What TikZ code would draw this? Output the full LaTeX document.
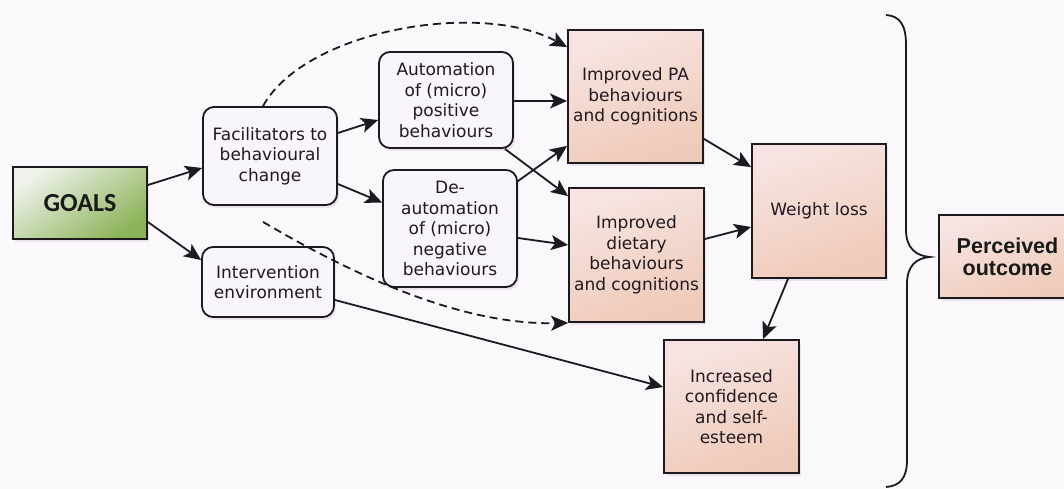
\documentclass[tikz,border=0pt]{standalone}
\usepackage{fontspec}
\setmainfont{DejaVu Sans}
\newfontfamily\goalsfont{Carlito}
\newfontfamily\outfont{Liberation Sans}
\usetikzlibrary{arrows.meta,shadows}

\definecolor{paper}{HTML}{FAF8FB}
\definecolor{linec}{HTML}{1C1A1E}
\definecolor{txt}{HTML}{221820}
\definecolor{roundfill}{HTML}{F8F6FA}
\definecolor{pinkT}{HTML}{F7E4E2}
\definecolor{pinkB}{HTML}{EFCAB8}
\definecolor{goalsL}{HTML}{EEF2EA}
\definecolor{goalsD}{HTML}{8DB35A}
\definecolor{shadowc}{HTML}{B89AB4}

\tikzset{
  bodytext/.style={font=\fontsize{17}{20.5}\selectfont, text=txt, align=center, inner sep=0pt},
  softshadow/.style={drop shadow={shadow xshift=2pt, shadow yshift=-3pt, opacity=0.22, fill=shadowc}},
  rbox/.style={bodytext, draw=linec, line width=1.8pt, rounded corners=11pt, fill=roundfill, softshadow},
  pbox/.style={bodytext, draw=linec, line width=1.8pt, top color=pinkT, bottom color=pinkB, shading angle=20, softshadow},
  arr/.style={draw=linec, line width=1.8pt, -{Stealth[length=17pt,width=15pt,inset=4pt]}},
  darr/.style={arr, dash pattern=on 8pt off 5pt},
}

\begin{document}
\begin{tikzpicture}[x=1pt,y=-1pt]
  \fill[paper] (0,0) rectangle (1064,489);
  \useasboundingbox (0,0) rectangle (1064,489);

  % left column
  \node[draw=linec, line width=1.8pt, top color=goalsL, bottom color=goalsD, shading angle=35,
        softshadow, minimum width=134pt, minimum height=72pt, inner sep=0pt,
        font=\goalsfont\bfseries\fontsize{26}{28}\selectfont, text=black!90]
        (goals) at (80,203) {GOALS};
  \node[rbox, minimum width=134pt, minimum height=98pt] (fac) at (270,156)
        {Facilitators to\\behavioural\\change};
  \node[rbox, minimum width=132pt, minimum height=70pt] (env) at (268,282)
        {Intervention\\environment};

  % automation column
  \node[rbox, minimum width=134pt, minimum height=96pt] (auto) at (446,100)
        {Automation\\of (micro)\\positive\\behaviours};
  \node[rbox, minimum width=134pt, minimum height=117pt] (deauto) at (450,228.5)
        {De-\\automation\\of (micro)\\negative\\behaviours};

  % outcome boxes
  \node[pbox, minimum width=135pt, minimum height=133pt] (pa) at (635.5,96.5)
        {Improved PA\\behaviours\\and cognitions};
  \node[pbox, minimum width=135pt, minimum height=134pt] (diet) at (636.5,255)
        {Improved\\dietary\\behaviours\\and cognitions};
  \node[pbox, minimum width=134pt, minimum height=134pt] (wl) at (819,211)
        {Weight loss};
  \node[pbox, minimum width=135pt, minimum height=133pt] (conf) at (731.5,406.5)
        {Increased\\confidence\\and self-\\esteem};

  \node[draw=linec, line width=1.8pt, top color=pinkT, bottom color=pinkB, shading angle=20,
        softshadow, minimum width=137pt, minimum height=83pt, inner sep=0pt, align=center,
        font=\outfont\bfseries\fontsize{21.5}{22}\selectfont, text=black!90]
        (perc) at (1007.5,256.5) {Perceived\\outcome};

  % solid connectors
  \draw[arr] ([yshift=18pt]goals.east) -- ([yshift=-12pt]fac.west);
  \draw[arr] ([yshift=-19pt]goals.east) -- ([yshift=22pt]env.west);
  \draw[arr] ([yshift=23pt]fac.east) -- ([yshift=-20pt]auto.west);
  \draw[arr] ([yshift=-28pt]fac.east) -- ([yshift=26pt]deauto.west);
  \draw[arr] ([yshift=-1pt]auto.east) -- ([yshift=-1pt]auto.east -| pa.west);
  \draw[arr] ([xshift=-9pt]auto.south east) -- ([yshift=-9pt]diet.north west);
  \draw[arr] ([yshift=-12pt]deauto.north east) -- ([yshift=18pt]pa.south west);
  \draw[arr] ([yshift=-9.5pt]deauto.east) -- ([yshift=10pt]diet.west);
  \draw[arr] ([yshift=-18pt]env.east) -- ([yshift=19.5pt]conf.west);
  \draw[arr] ([yshift=25pt]pa.south east) -- ([yshift=-24pt]wl.north west);
  \draw[arr] ([yshift=16pt]diet.east) -- ([yshift=-16pt]wl.west);
  \draw[arr] ([xshift=-31pt]wl.south) -- ([xshift=31.5pt]conf.north);

  % dashed connectors
  \draw[darr] ([xshift=-7pt]fac.north) .. controls (305,30) and (480,0) .. ([yshift=-18pt]pa.north west);
  \coordinate (dstart) at ([xshift=-7pt,yshift=-16pt]fac.south);
  \draw[darr] (dstart) .. controls (370,285) and (470,325) .. (diet.south west);

  % brace gathering the outcomes
  \draw[linec, line width=1.8pt]
    (886,15) .. controls (900,16) and (906,25) .. (906,45) -- (906,230)
    .. controls (906,248) and (916,256) .. (930,257)
    .. controls (916,258) and (907,266) .. (907,284) -- (907,460)
    .. controls (907,478) and (900,486) .. (886,487);
\end{tikzpicture}
\end{document}
